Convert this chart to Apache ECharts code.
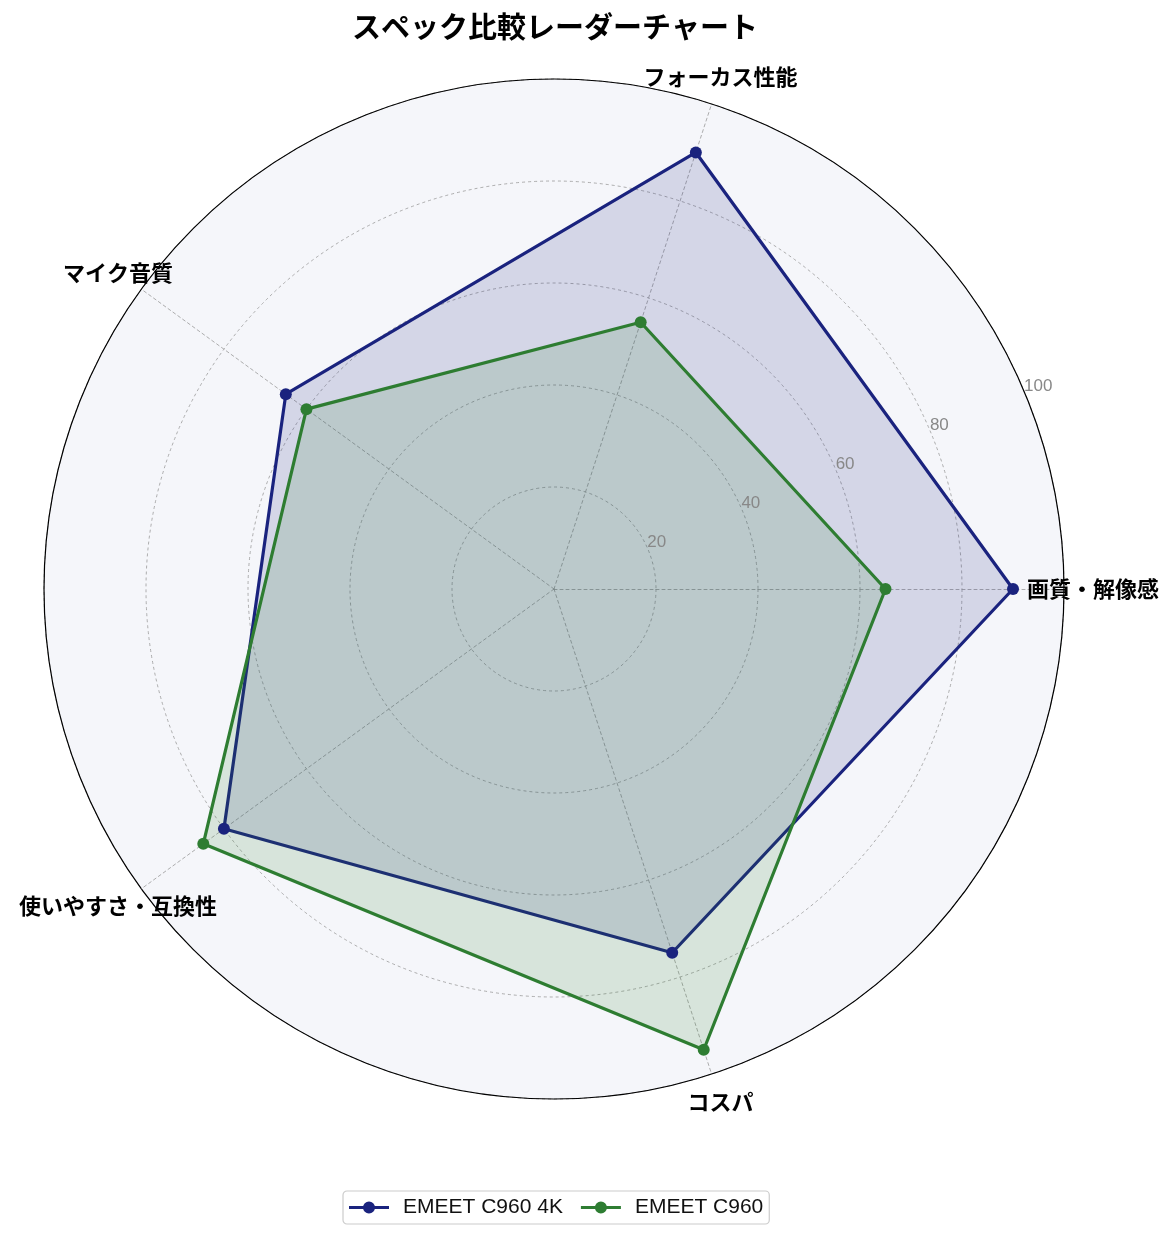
<!DOCTYPE html>
<html>
<head>
<meta charset="utf-8">
<script src="https://cdn.jsdelivr.net/npm/echarts@6/dist/echarts.min.js"></script>
<style>
html,body{margin:0;padding:0;background:#fff;}
#chart{width:1176px;height:1239px;}
</style>
</head>
<body>
<div id="chart"></div>
<script>
const categories = ['画質・解像感', 'フォーカス性能', 'マイク音質', '使いやすさ・互換性', 'コスパ'];
const seriesNames = ['EMEET C960 4K', 'EMEET C960'];
const values4K = [90, 90, 65, 80, 75];
const valuesC960 = [65, 55, 60, 85, 95];
const radialTicks = [0, 20, 40, 60, 80, 100];
const colors = ['#1a237e', '#2e7d32'];

const FONT = 'Noto Sans CJK JP';
const LATIN = 'Liberation Sans';
const chart = echarts.init(document.getElementById('chart'), null, {renderer: 'canvas'});
const center = [554, 589];
const R = 510;
const legendIcon = 'path://M0,4.6 L40,4.6 L40,7.4 L0,7.4 Z M14,6 A6,6 0 1,1 26,6 A6,6 0 1,1 14,6 Z';

chart.setOption({
  backgroundColor: '#ffffff',
  textStyle: {fontFamily: FONT},
  title: {
    text: 'スペック比較レーダーチャート',
    left: 550,
    textAlign: 'center',
    top: 7,
    textStyle: {fontSize: 29, fontWeight: 'bold', color: '#000', fontFamily: FONT}
  },
  legend: {
    data: seriesNames,
    bottom: 15,
    left: 343,
    icon: legendIcon,
    itemWidth: 42,
    itemHeight: 12,
    itemGap: 18,
    borderColor: '#cccccc',
    borderWidth: 1.2,
    borderRadius: 4,
    padding: [6, 6],
    textStyle: {fontSize: 21, color: '#111', fontFamily: LATIN, padding: [0, 0, 0, 8]}
  },
  polar: {center: center, radius: R},
  angleAxis: {
    type: 'value', min: 0, max: 360, startAngle: 22.5,
    axisLine: {show: true, lineStyle: {color: '#000', width: 1.2}},
    axisTick: {show: false}, axisLabel: {show: false}, splitLine: {show: false}
  },
  radiusAxis: {
    type: 'value', min: radialTicks[0], max: radialTicks[radialTicks.length - 1], interval: 20,
    axisLine: {show: false}, axisTick: {show: false}, splitLine: {show: false},
    z: 10,
    axisLabel: {
      show: true, color: '#888', fontSize: 17, margin: 8, fontFamily: LATIN,
      align: 'left', verticalAlign: 'middle', padding: [0, 0, 0, 2],
      formatter: v => (v === 0 ? '' : String(v))
    }
  },
  radar: {
    center: center,
    radius: R,
    startAngle: 0,
    shape: 'circle',
    splitNumber: 5,
    nameGap: 29,
    indicator: categories.map(c => ({name: c, min: 0, max: 100})),
    axisName: {
      color: '#000', fontSize: 22, fontWeight: 'bold', fontFamily: FONT,
      align: 'center', verticalAlign: 'middle'
    },
    axisLine: {lineStyle: {color: '#999', type: [3, 3], width: 0.8}},
    splitLine: {lineStyle: {color: '#999', type: [3, 3], width: 0.8}},
    splitArea: {show: true, areaStyle: {color: ['#f5f6fa']}}
  },
  series: [{
    type: 'radar',
    symbol: 'circle',
    symbolSize: 12,
    data: [
      {
        name: seriesNames[0], value: values4K,
        lineStyle: {color: colors[0], width: 3.2},
        itemStyle: {color: colors[0]},
        areaStyle: {color: colors[0], opacity: 0.15}
      },
      {
        name: seriesNames[1], value: valuesC960,
        lineStyle: {color: colors[1], width: 3.2},
        itemStyle: {color: colors[1]},
        areaStyle: {color: colors[1], opacity: 0.15}
      }
    ]
  }]
});
</script>
</body>
</html>
